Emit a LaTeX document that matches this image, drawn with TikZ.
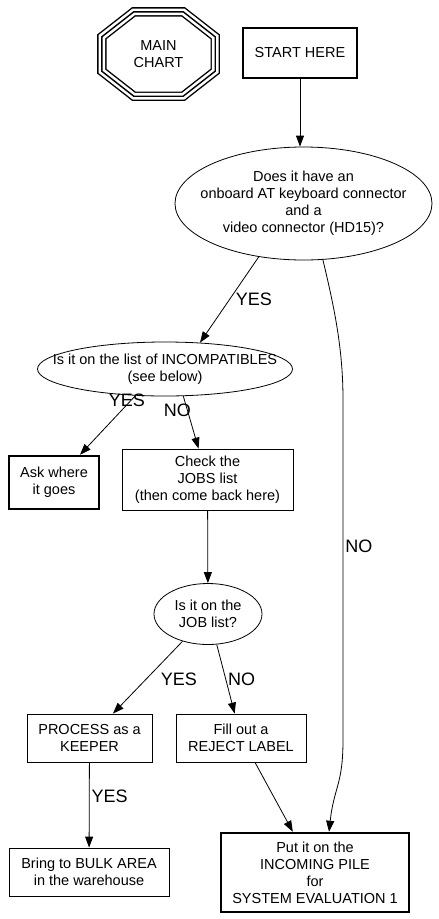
\documentclass[tikz,border=0pt]{standalone}
\usepackage{fontspec}
\setmainfont{Liberation Sans}
\usetikzlibrary{arrows.meta,shapes.geometric}
\newcommand{\chartfont}{\fontsize{14.5}{17}\selectfont}
\newcommand{\answerfont}{\fontsize{18}{20}\selectfont}
\tikzset{
  box/.style={draw, line width=0.8pt, align=center, font=\chartfont, inner sep=2pt},
  thick box/.style={box, line width=2.5pt},
  decision/.style={ellipse, draw, line width=0.8pt, align=center, font=\chartfont, inner sep=-100pt},
  flow/.style={-{Triangle[length=11pt, width=8pt]}, line width=0.8pt},
  answer/.style={font=\answerfont, inner sep=2pt},
  triple line/.style={line width=1.4pt, preaction={draw, line width=9.4pt}, preaction={draw=white, line width=6.6pt}},
}

\begin{document}
\begin{tikzpicture}[x=1pt, y=-1pt]
  \useasboundingbox (0,0) rectangle (439,919);

  % Main chart badge
  \node[font=\chartfont, align=center, minimum width=113pt, minimum height=84pt] (chart) at (158.5,54) {MAIN\\CHART};
  \draw[triple line] ([xshift=32pt]chart.north west) -- ([xshift=-32pt]chart.north east)
    -- ([yshift=-25pt]chart.north east) -- ([yshift=25pt]chart.south east)
    -- ([xshift=-32pt]chart.south east) -- ([xshift=32pt]chart.south west)
    -- ([yshift=25pt]chart.south west) -- ([yshift=-25pt]chart.north west) -- cycle;

  % Boxes and questions
  \node[thick box, minimum width=114pt, minimum height=50pt] (start) at (300,53) {START HERE};
  \node[decision, minimum width=257pt, minimum height=113pt] (connectors) at (303.5,203.5)
    {Does it have an\\onboard AT keyboard connector\\and a\\video connector (HD15)?};
  \node[decision, minimum width=255pt, minimum height=54pt] (incompat) at (165,369)
    {Is it on the list of INCOMPATIBLES\\(see below)};
  \node[thick box, minimum width=90pt, minimum height=53pt] (ask) at (54,482.5) {Ask where\\it goes};
  \node[box, minimum width=171pt, minimum height=61pt] (check) at (207.5,479.5)
    {Check the\\JOBS list\\(then come back here)};
  \node[decision, minimum width=108pt, minimum height=61pt] (joblist) at (208,614) {Is it on the\\JOB list?};
  \node[box, minimum width=125pt, minimum height=48pt] (keeper) at (89.5,738) {PROCESS as a\\KEEPER};
  \node[box, minimum width=130pt, minimum height=48pt] (reject) at (241,738) {Fill out a\\REJECT LABEL};
  \node[box, minimum width=160pt, minimum height=48pt] (bulk) at (89,872) {Bring to BULK AREA\\in the warehouse};
  \node[thick box, minimum width=188pt, minimum height=79pt] (incoming) at (315,872.5)
    {Put it on the\\INCOMING PILE\\for\\SYSTEM EVALUATION 1};

  % Connectors
  \draw[flow] (start) -- (start |- connectors.north);
  \draw[flow] (connectors.-130) -- (incompat.37) node[answer, pos=0.5, right=4pt] {YES};
  \draw[flow] (connectors.-71) .. controls +(12,50) and +(0,-50) .. (343,400)
    -- node[answer, pos=0.43, right] {NO} (343,740)
    .. controls +(0,45) and +(5,-45) .. ([xshift=14pt]incoming.north);
  \draw[flow] (incompat.-138) -- (ask) node[answer, pos=0.08, xshift=-4pt] {YES};
  \draw[flow] (incompat.-56) -- (check) node[answer, pos=0.27, xshift=-10pt] {NO};
  \draw[flow] (check) -- (joblist);
  \draw[flow] (joblist.-133) -- (keeper) node[answer, pos=0.52, right=12pt] {YES};
  \draw[flow] (joblist.-74) -- (reject) node[answer, pos=0.5, right] {NO};
  \draw[flow] (keeper) -- (bulk) node[answer, pos=0.4, right] {YES};
  \draw[flow] ([xshift=14pt]reject.south) -- (incoming);

\end{tikzpicture}
\end{document}
